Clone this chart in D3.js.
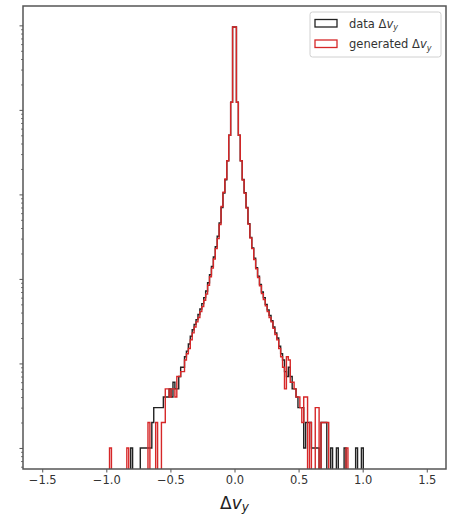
<!DOCTYPE html>
<html><head><meta charset="utf-8">
<script src="https://cdn.jsdelivr.net/npm/d3@7"></script>
<style>html,body{margin:0;padding:0;background:#fff;}svg{display:block;font-family:"DejaVu Sans",sans-serif;}</style>
</head><body><svg id="c" width="450" height="514"></svg>
<script>
// ---- data ----
const binLo = -1.5, binHi = 1.5, nBins = 200;   // histogram bins
const firstBin = 34;                              // index of first stored bin
const dataCounts = [
  0,0,0,0,0,0,0,0,0,0,0,0,1,0,0,0,0,1,1,1,1,1,1,2,3,3,3,3,3,
  4,4,4,5,4,6,5,5,7,9,9,12,14,17,21,25,29,33,38,44,51,60,72,90,112,140,182,240,320,460,700,1040,1490,2500,5000,12300,95500,
  95500,12300,5000,2500,1500,1050,700,450,310,232,
  176,136,108,86,70,60,50,43,37,32,
  27,23,20,16,13,11,8,7,9,7,
  5,5,4,3,3,3,1,2,2,2,
  1,1,1,1,0,2,2,2,0,0,
  1,0,0,1,0,0,0,1,0,0,
  0,0,0,1,0,0,1,0
];
const genCounts = [
  0,1,0,0,0,0,0,0,0,0,1,0,0,0,0,0,0,0,0,0,0,
  2,0,0,0,2,0,0,2,2,5,5,4,5,5,4,7,7,8,8,11,13,15,19,23,27,31,35,41,47,56,66,84,106,134,172,228,300,440,720,1060,1520,2500,5000,12300,95500,
  95500,12300,5000,2500,1480,1030,690,445,305,228,
  170,132,104,83,67,57,48,41,35,31,
  26,22,19,15,12,9,5,12,11,6,
  6,5,4,4,3,2,4,4,0,2,
  0,0,3,3,0,2,2,2,2,0,
  0,0,0,0,0,0,0,0,1,0,
  0,0,0,0,0,0,0,0
];
const xTicks = [-1.5, -1.0, -0.5, 0.0, 0.5, 1.0, 1.5];
const seriesNames = ["data", "generated"];
const seriesColors = ["#222222", "#d62728"];

// ---- layout ----
const m = {l: 23, r: 446, t: 6, b: 469};
const svg = d3.select("#c");
const span = binHi - binLo, binW = span / nBins;
const x = d3.scaleLinear().domain([binLo - 0.05 * span, binHi + 0.05 * span]).range([m.l, m.r]);
const maxC = d3.max(dataCounts.concat(genCounts));
const lo = 0, hi = Math.log10(maxC), lr = hi - lo;
const y = d3.scaleLog().domain([10 ** (lo - 0.05 * lr), 10 ** (hi + 0.05 * lr)]).range([m.b, m.t]);

svg.append("defs").append("clipPath").attr("id", "clip")
  .append("rect").attr("x", m.l).attr("y", m.t).attr("width", m.r - m.l).attr("height", m.b - m.t);

function fullCounts(arr) {
  const c = new Array(nBins).fill(0);
  arr.forEach((v, j) => { c[firstBin + j] = v; });
  return c;
}
function stepPts(c) {
  const pts = [[binLo, 0]];
  c.forEach((v, i) => { const e0 = binLo + i * binW; pts.push([e0, v], [e0 + binW, v]); });
  pts.push([binHi, 0]);
  return pts;
}
const yy = v => v > 0 ? y(v) : m.b + 60;
const line = d3.line().x(d => x(d[0])).y(d => yy(d[1]));

const g = svg.append("g").attr("clip-path", "url(#clip)");
[dataCounts, genCounts].forEach((arr, si) => {
  g.append("path").attr("d", line(stepPts(fullCounts(arr))))
    .attr("fill", "none").attr("stroke", seriesColors[si]).attr("stroke-width", 1.4)
    .attr("stroke-linejoin", "miter");
});

// ---- axes ----
const axisCol = "#555";
const xa = svg.append("g").attr("transform", `translate(0,${m.b})`)
  .call(d3.axisBottom(x).tickValues(xTicks).tickFormat(d3.format(".1f")).tickSize(3.5).tickPadding(3));
xa.select(".domain").remove();
xa.selectAll("line").attr("stroke", axisCol).attr("stroke-width", 1);
xa.selectAll("text").attr("font-size", 11.5).attr("fill", "#333").attr("font-family", "DejaVu Sans");

const [d0, d1] = y.domain();
const majors = [], minors = [];
for (let k = Math.floor(Math.log10(d0)); k <= Math.ceil(Math.log10(d1)); k++) {
  const p = 10 ** k;
  if (p >= d0 && p <= d1) majors.push(p);
  for (let q = 2; q <= 9; q++) { const v = q * p; if (v >= d0 && v <= d1) minors.push(v); }
}
const ya = svg.append("g").attr("transform", `translate(${m.l},0)`)
  .call(d3.axisLeft(y).tickValues(majors).tickFormat("").tickSize(3.5));
ya.select(".domain").remove();
ya.selectAll("line").attr("stroke", axisCol).attr("stroke-width", 1);
const yb = svg.append("g").attr("transform", `translate(${m.l},0)`)
  .call(d3.axisLeft(y).tickValues(minors).tickFormat("").tickSize(2));
yb.select(".domain").remove();
yb.selectAll("line").attr("stroke", axisCol).attr("stroke-width", 0.8);

svg.append("rect").attr("x", m.l).attr("y", m.t).attr("width", m.r - m.l).attr("height", m.b - m.t)
  .attr("fill", "none").attr("stroke", axisCol).attr("stroke-width", 1.5);

// x label
const xl = svg.append("text").attr("x", (m.l + m.r) / 2).attr("y", 508.5)
  .attr("text-anchor", "middle").attr("font-size", 17).attr("fill", "#222");
xl.append("tspan").text("Δ");
xl.append("tspan").attr("font-style", "italic").text("v");
xl.append("tspan").attr("font-style", "italic").attr("font-size", 12).attr("dy", 2.5).text("y");

// ---- legend ----
const lg = svg.append("g");
lg.append("rect").attr("x", 310).attr("y", 12).attr("width", 131).attr("height", 45).attr("rx", 2.5)
  .attr("fill", "#fff").attr("fill-opacity", 0.8).attr("stroke", "#d0d0d0").attr("stroke-width", 1);
seriesNames.forEach((nm, i) => {
  const ry = 19.5 + i * 20.5;
  lg.append("rect").attr("x", 315).attr("y", ry).attr("width", 22).attr("height", 7.5)
    .attr("fill", "none").attr("stroke", seriesColors[i]).attr("stroke-width", 1.3);
  const t = lg.append("text").attr("x", 349).attr("y", ry + 8).attr("font-size", 11.5).attr("fill", "#333");
  t.append("tspan").text(nm + " Δ");
  t.append("tspan").attr("font-style", "italic").text("v");
  t.append("tspan").attr("font-style", "italic").attr("font-size", 8).attr("dy", 2.5).text("y");
});
</script></body></html>
